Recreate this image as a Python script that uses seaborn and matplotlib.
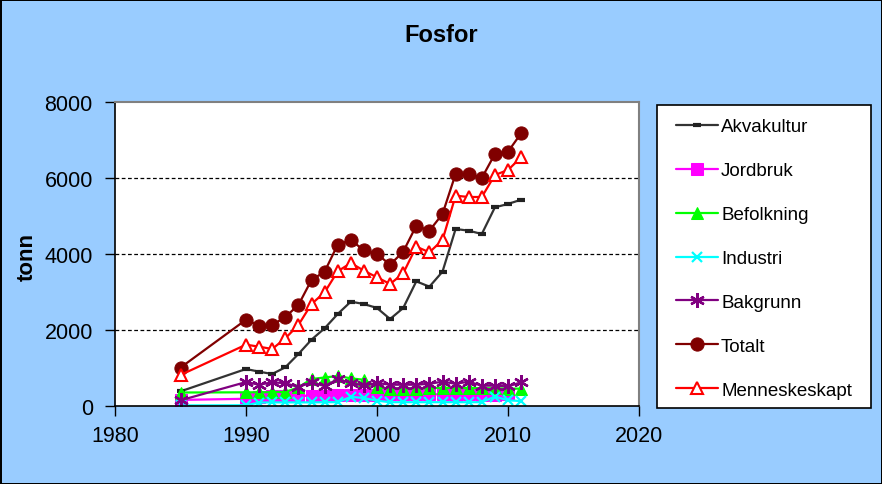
import numpy as np
import pandas as pd
import matplotlib
matplotlib.use("Agg")
import matplotlib.pyplot as plt
import seaborn as sns
from matplotlib.patches import Rectangle

years = [1985] + list(range(1990, 2012))

akvakultur = [385, 974, 903, 842, 1018, 1368, 1746, 2044, 2421, 2746, 2684, 2579, 2289,
              2579, 3281, 3140, 3535, 4658, 4614, 4526, 5228, 5316, 5430]
jordbruk = [160, 190, 250, 255, 260, 265, 270, 270, 280, 290, 285, 300, 305,
            310, 310, 305, 310, 300, 305, 300, 300, 305, np.nan]
befolkning = [355, 360, 360, 365, 370, 490, 710, 750, 790, 728, 690, 490, 460,
              455, 460, 465, 480, 470, 475, 470, 465, 460, 455]
industri = [15, 20, 90, 95, 95, 95, 95, 100, 100, 240, 210, 140, 100,
            100, 100, 100, 100, 100, 100, 100, 250, 150, 130]
bakgrunn = [150, 630, 560, 623, 600, 500, 625, 525, 705, 605, 540, 605, 560,
            560, 560, 585, 640, 585, 640, 535, 535, 515, 625]
totalt = [1010, 2270, 2113, 2130, 2342, 2658, 3316, 3535, 4245, 4368, 4097, 4000, 3719,
          4061, 4745, 4613, 5053, 6105, 6105, 6000, 6632, 6692, 7176]
menneskeskapt = [816, 1614, 1561, 1500, 1781, 2132, 2684, 2991, 3544, 3763, 3561, 3386, 3211,
                 3491, 4193, 4044, 4368, 5535, 5500, 5500, 6079, 6211, 6544]

title = "Fosfor"
ylabel = "tonn"
xticks = [1980, 1990, 2000, 2010, 2020]
yticks = [0, 2000, 4000, 6000, 8000]

series = [
    ("Akvakultur", akvakultur, dict(color="#333333", marker="_", markersize=6, markeredgewidth=3,
                                    markeredgecolor="#222222")),
    ("Jordbruk", jordbruk, dict(color="#FF00FF", marker="s", markersize=8,
                                markerfacecolor="#FF00FF", markeredgecolor="#FF00FF")),
    ("Befolkning", befolkning, dict(color="#00FF00", marker="^", markersize=8.5,
                                    markerfacecolor="#00FF00", markeredgecolor="#00FF00")),
    ("Industri", industri, dict(color="#00FFFF", marker="x", markersize=7.5, markeredgewidth=1.6,
                                markeredgecolor="#00FFFF")),
    ("Bakgrunn", bakgrunn, dict(color="#800080", marker=(6, 2, 0), markersize=10.5, markeredgewidth=1.7,
                                markeredgecolor="#800080")),
    ("Totalt", totalt, dict(color="#800000", marker="o", markersize=9.5,
                            markerfacecolor="#800000", markeredgecolor="#800000")),
    ("Menneskeskapt", menneskeskapt, dict(color="#FF0000", marker="^", markersize=9,
                                          markerfacecolor="white", markeredgecolor="#FF0000",
                                          markeredgewidth=1.5)),
]

sns.set_theme(style="white")
plt.rcParams["font.family"] = ["Liberation Sans", "DejaVu Sans"]

bg = "#99CCFF"
fig = plt.figure(figsize=(8.82, 4.85), dpi=100)
fig.patch.set_facecolor(bg)
fig.patch.set_edgecolor("black")
fig.patch.set_linewidth(2)

ax = fig.add_axes([115 / 882, 1 - 407 / 485, 524 / 882, 304 / 485])
ax.set_facecolor("white")

for name, vals, style in series:
    df = pd.DataFrame({"year": years, "value": vals}).dropna()
    sns.lineplot(data=df, x="year", y="value", ax=ax, linewidth=1.6, label=name, **style)

ax.set_xlim(1980, 2020)
ax.set_ylim(0, 8000)
ax.set_xticks(xticks)
ax.set_yticks(yticks)
ax.set_xticklabels([str(t) for t in xticks], fontsize=15.5, color="black")
ax.set_yticklabels([str(t) for t in yticks], fontsize=15.5, color="black")
ax.tick_params(axis="both", direction="out", length=7, width=1, color="black", bottom=True, left=True)
ax.tick_params(axis="y", pad=9)
ax.tick_params(axis="x", pad=7)

for y in yticks[1:-1]:
    ax.axhline(y, color="black", linewidth=0.9, linestyle=(0, (3, 2)), zorder=0.5)

for s in ["left", "bottom"]:
    ax.spines[s].set_color("black")
    ax.spines[s].set_linewidth(1.2)
for s in ["top", "right"]:
    ax.spines[s].set_color("#808080")
    ax.spines[s].set_linewidth(1.5)
    ax.spines[s].set_visible(True)

ax.set_xlabel("")
ax.set_ylabel("")
fig.text(27 / 882, 1 - 257 / 485, ylabel, rotation=90, ha="center", va="center",
         fontsize=16, fontweight="bold", color="black")

fig.text(0.5, 1 - 36 / 485, title, ha="center", va="center", fontsize=17, fontweight="bold", color="black")

# legend frame
frame = Rectangle((657 / 882, 1 - 409 / 485), 214 / 882, 303 / 485, transform=fig.transFigure,
                  facecolor="white", edgecolor="black", linewidth=1.2, zorder=0)
fig.patches.append(frame)

handles, labels = ax.get_legend_handles_labels()
if ax.legend_:
    ax.legend_.remove()
leg = fig.legend(handles, labels, loc="center", bbox_to_anchor=(764 / 882, 1 - 259.5 / 485),
                 frameon=False, fontsize=13.5, handlelength=2.25, handletextpad=0.15,
                 labelspacing=1.43, borderpad=0)
for t in leg.get_texts():
    t.set_color("black")

fig.savefig("out.png", dpi=100, facecolor=bg, edgecolor="black")
